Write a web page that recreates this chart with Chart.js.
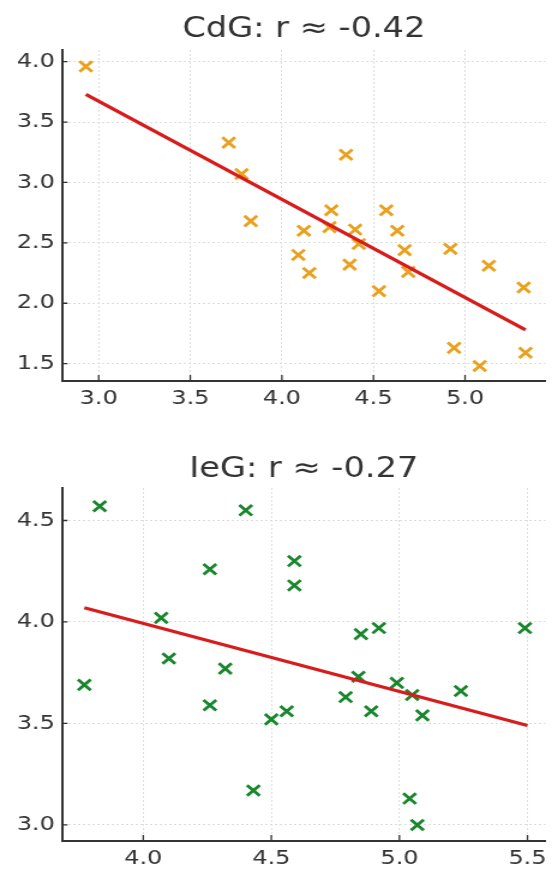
<!DOCTYPE html>
<html>
<head>
<meta charset="utf-8">
<script src="https://cdn.jsdelivr.net/npm/chart.js@4"></script>
<style>
  body { margin: 0; background: #fff; width: 558px; height: 870px; overflow: hidden; position: relative; }
  .wrap { position: absolute; left: 0; transform: scaleX(1.2); transform-origin: 0 0; }
</style>
</head>
<body>
<div class="wrap" style="top:0"><canvas id="cdg" width="465" height="435"></canvas></div>
<div class="wrap" style="top:435px"><canvas id="ieg" width="465" height="435"></canvas></div>
<script>
// CdG panel
const cdgTitle = "CdG: r \u2248 -0.42";
const cdgX = [2.93, 3.71, 3.78, 3.83, 4.09, 4.12, 4.15, 4.26, 4.27, 4.35, 4.37, 4.40, 4.42, 4.53, 4.57, 4.63, 4.67, 4.69, 4.92, 4.94, 5.08, 5.13, 5.32, 5.33];
const cdgY = [3.96, 3.33, 3.07, 2.68, 2.40, 2.60, 2.25, 2.63, 2.77, 3.23, 2.32, 2.61, 2.49, 2.10, 2.77, 2.60, 2.44, 2.26, 2.45, 1.63, 1.48, 2.31, 2.13, 1.59];
const cdgFitX = [2.93, 5.33];
const cdgFitY = [3.73, 1.78];
const cdgXTicks = [3.0, 3.5, 4.0, 4.5, 5.0];
const cdgYTicks = [1.5, 2.0, 2.5, 3.0, 3.5, 4.0];

// IeG panel
const iegTitle = "IeG: r \u2248 -0.27";
const iegX = [3.77, 3.83, 4.07, 4.10, 4.26, 4.26, 4.32, 4.40, 4.43, 4.50, 4.56, 4.59, 4.59, 4.79, 4.84, 4.85, 4.89, 4.92, 4.99, 5.04, 5.05, 5.07, 5.09, 5.24, 5.49];
const iegY = [3.69, 4.57, 4.02, 3.82, 4.26, 3.59, 3.77, 4.55, 3.17, 3.52, 3.56, 4.30, 4.18, 3.63, 3.73, 3.94, 3.56, 3.97, 3.70, 3.13, 3.64, 3.00, 3.54, 3.66, 3.97];
const iegFitX = [3.77, 5.50];
const iegFitY = [4.07, 3.49];
const iegXTicks = [4.0, 4.5, 5.0, 5.5];
const iegYTicks = [3.0, 3.5, 4.0, 4.5];

const FONT = "'DejaVu Sans', sans-serif";
const INK = "#333";

// matplotlib-like ticks pointing into the plot
const inTicks = {
  id: "inTicks",
  afterDraw(chart) {
    const { ctx, chartArea: a, scales } = chart;
    ctx.save();
    ctx.strokeStyle = INK;
    ctx.lineWidth = 1.3;
    ctx.beginPath();
    scales.x.ticks.forEach((t) => {
      const px = scales.x.getPixelForValue(t.value);
      ctx.moveTo(px, a.bottom);
      ctx.lineTo(px, a.bottom - 6);
    });
    scales.y.ticks.forEach((t) => {
      const py = scales.y.getPixelForValue(t.value);
      ctx.moveTo(a.left, py);
      ctx.lineTo(a.left + 4.5, py);
    });
    ctx.stroke();
    ctx.restore();
  },
};

// title centred over the plot area
const plotTitle = {
  id: "plotTitle",
  afterDraw(chart, args, opts) {
    const { ctx, chartArea: a } = chart;
    ctx.save();
    ctx.font = "28px " + FONT;
    ctx.fillStyle = INK;
    ctx.textAlign = "center";
    ctx.textBaseline = "alphabetic";
    ctx.fillText(opts.text, (a.left + a.right) / 2, opts.y);
    ctx.restore();
  },
};

function axis(min, max, tickVals, fit) {
  return {
    type: "linear",
    min: min,
    max: max,
    afterBuildTicks: (s) => { s.ticks = tickVals.map((v) => ({ value: v })); },
    afterFit: fit,
    grid: { color: "#dedede", lineWidth: 1, drawTicks: false },
    border: { color: INK, width: 2, dash: [2, 2] },
    ticks: {
      color: INK,
      padding: 6,
      font: { family: FONT, size: 20 },
      callback: (v) => Number(v).toFixed(1),
    },
  };
}

function makeChart(id, p) {
  return new Chart(document.getElementById(id), {
    type: "scatter",
    data: {
      datasets: [
        {
          type: "line",
          data: p.fitX.map((x, i) => ({ x: x, y: p.fitY[i] })),
          borderColor: "#d81c1c",
          borderWidth: 3.3,
          pointRadius: 0,
          fill: false,
          order: 0,
        },
        {
          data: p.xs.map((x, i) => ({ x: x, y: p.ys[i] })),
          pointStyle: "crossRot",
          pointRadius: 7.5,
          borderWidth: 2.8,
          borderColor: p.color,
          backgroundColor: p.color,
          order: 1,
        },
      ],
    },
    options: {
      responsive: false,
      animation: false,
      devicePixelRatio: 1,
      layout: { padding: p.padding },
      plugins: {
        legend: { display: false },
        tooltip: { enabled: false },
        plotTitle: { text: p.title, y: p.titleY },
      },
      scales: {
        x: axis(p.xMin, p.xMax, p.xTicks, (s) => { s.height = p.xH; }),
        y: axis(p.yMin, p.yMax, p.yTicks, (s) => { s.width = 51.7; }),
      },
    },
    plugins: [inTicks, plotTitle],
  });
}

makeChart("cdg", {
  title: cdgTitle, titleY: 37,
  xs: cdgX, ys: cdgY, fitX: cdgFitX, fitY: cdgFitY,
  xTicks: cdgXTicks, yTicks: cdgYTicks,
  xMin: 2.80, xMax: 5.44, yMin: 1.356, yMax: 4.097,
  color: "#e9a01c",
  padding: { top: 50, right: 0, bottom: 14, left: 0 },
  xH: 40,
});

makeChart("ieg", {
  title: iegTitle, titleY: 42,
  xs: iegX, ys: iegY, fitX: iegFitX, fitY: iegFitY,
  xTicks: iegXTicks, yTicks: iegYTicks,
  xMin: 3.683, xMax: 5.571, yMin: 2.921, yMax: 4.66,
  color: "#17862c",
  padding: { top: 53, right: 8, bottom: 0, left: 0 },
  xH: 29,
});
</script>
</body>
</html>
